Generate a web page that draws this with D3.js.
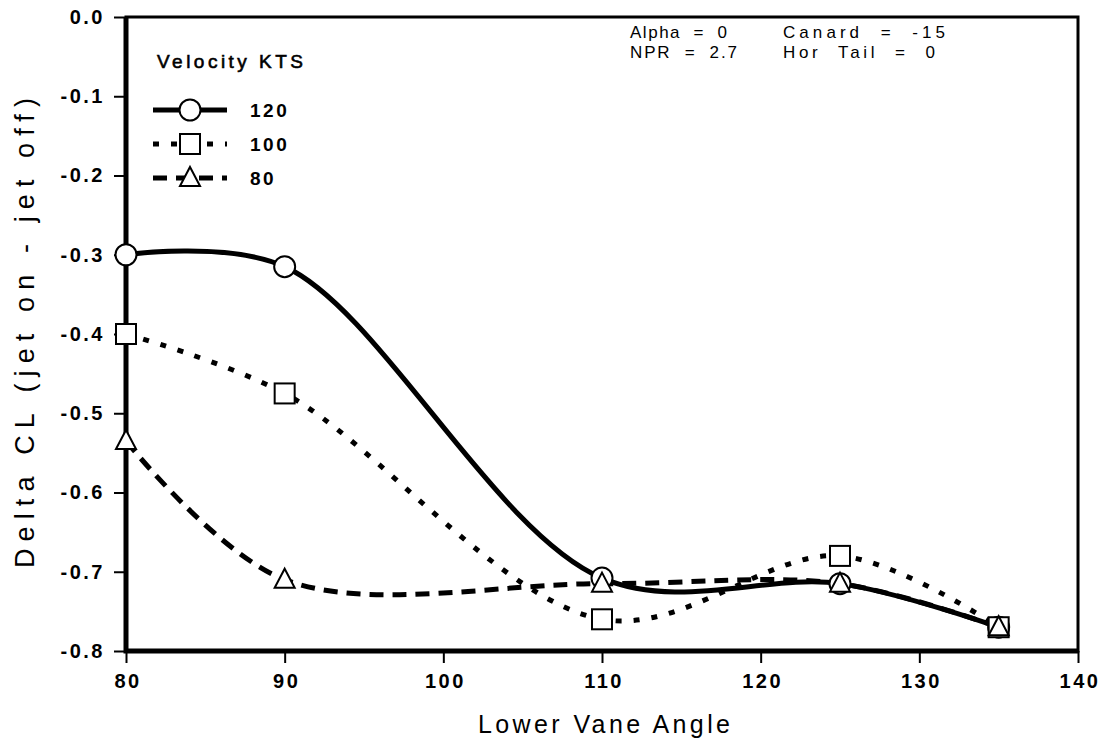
<!DOCTYPE html>
<html>
<head>
<meta charset="utf-8">
<script src="https://cdn.jsdelivr.net/npm/d3@7"></script>
<style>
  body { margin: 0; background: #fff; }
  text { font-family: "Liberation Sans", Arial, sans-serif; fill: #000; }
</style>
</head>
<body>
<div id="chart"></div>
<script>
// data
const vaneAngles = [80, 90, 110, 125, 135];
const v120 = [-0.300, -0.315, -0.708, -0.715, -0.770];
const v100 = [-0.400, -0.475, -0.760, -0.680, -0.770];
const v80 = [-0.535, -0.710, -0.715, -0.715, -0.770];
const xTicks = [80, 90, 100, 110, 120, 130, 140];
const yTicks = [0, -0.1, -0.2, -0.3, -0.4, -0.5, -0.6, -0.7, -0.8];

const series = [
  { label: "120", values: v120, marker: "circle", dash: null },
  { label: "100", values: v100, marker: "square", dash: "6,12" },
  { label: "80", values: v80, marker: "triangle", dash: "14,9" }
];

const width = 1101, height = 741;
const margin = { top: 17, right: 23, bottom: 90, left: 126 };

const svg = d3.select("#chart").append("svg")
  .attr("width", width)
  .attr("height", height);

const x = d3.scaleLinear().domain([80, 140]).range([margin.left, width - margin.right]);
const y = d3.scaleLinear().domain([-0.8, 0]).range([height - margin.bottom, margin.top]);

const fmt = d => d3.format(".1f")(d).replace("\u2212", "-");

// axes
const xAxis = svg.append("g")
  .attr("transform", `translate(0,${height - margin.bottom})`)
  .call(d3.axisBottom(x).tickValues(xTicks).tickSize(12).tickPadding(11));
const yAxis = svg.append("g")
  .attr("transform", `translate(${margin.left},0)`)
  .call(d3.axisLeft(y).tickValues(yTicks).tickSize(12).tickPadding(9).tickFormat(fmt));

[xAxis, yAxis].forEach(a => {
  a.select(".domain").remove();
  a.selectAll(".tick line").attr("stroke", "#000").attr("stroke-width", 2);
  a.selectAll(".tick text")
    .style("font-size", "20px")
    .style("font-weight", "bold")
    .style("letter-spacing", "2.5px");
});
xAxis.selectAll(".tick text").attr("dx", "1.5px");

// frame
svg.append("rect")
  .attr("x", x(80)).attr("y", y(0))
  .attr("width", x(140) - x(80)).attr("height", y(-0.8) - y(0))
  .attr("fill", "none").attr("stroke", "#000").attr("stroke-width", 3);
svg.append("path")
  .attr("d", `M${x(80)},${y(0)}V${y(-0.8)}H${x(140)}`)
  .attr("fill", "none").attr("stroke", "#000").attr("stroke-width", 5);

// axis titles
svg.append("text")
  .attr("x", 478).attr("y", 733)
  .attr("textLength", 252).attr("lengthAdjust", "spacing")
  .style("font-size", "25px")
  .text("Lower Vane Angle");
svg.append("text")
  .attr("transform", "translate(34,568) rotate(-90)")
  .attr("textLength", 470).attr("lengthAdjust", "spacing")
  .style("font-size", "27px")
  .text("Delta CL (jet on - jet off)");

// lines
const line = d3.line()
  .x((d, i) => x(vaneAngles[i]))
  .y(d => y(d))
  .curve(d3.curveCatmullRom.alpha(0.5));

function drawMarker(g, type) {
  if (type === "circle") {
    g.append("circle").attr("r", 10.5);
  } else if (type === "square") {
    g.append("rect").attr("x", -10).attr("y", -10).attr("width", 20).attr("height", 20);
  } else {
    g.append("path").attr("d", "M0,-11L10,8L-10,8Z");
  }
  g.selectAll("*").attr("fill", "#fff").attr("stroke", "#000").attr("stroke-width", 2);
}

series.forEach(s => {
  svg.append("path")
    .datum(s.values)
    .attr("d", line)
    .attr("fill", "none")
    .attr("stroke", "#000")
    .attr("stroke-width", 5)
    .attr("stroke-dasharray", s.dash);
});
series.forEach(s => {
  s.values.forEach((v, i) => {
    const g = svg.append("g").attr("transform", `translate(${x(vaneAngles[i])},${y(v)})`);
    drawMarker(g, s.marker);
  });
});

// legend
svg.append("text")
  .attr("x", 157).attr("y", 68)
  .attr("textLength", 146).attr("lengthAdjust", "spacing")
  .style("font-size", "19px")
  .attr("stroke", "#000").attr("stroke-width", 0.6)
  .text("Velocity KTS");
series.forEach((s, i) => {
  const ly = 110 + i * 34;
  svg.append("line")
    .attr("x1", 153).attr("x2", 227).attr("y1", ly).attr("y2", ly)
    .attr("stroke", "#000").attr("stroke-width", 5)
    .attr("stroke-dasharray", s.dash);
  const g = svg.append("g").attr("transform", `translate(190,${ly})`);
  drawMarker(g, s.marker);
  svg.append("text")
    .attr("x", 250).attr("y", ly + 7)
    .style("font-size", "19px").style("font-weight", "bold").style("letter-spacing", "2.5px")
    .text(s.label);
});

// run conditions
const notes = [
  ["Alpha  =  0", 630, 38, 97], ["NPR  =  2.7", 630, 58, 107],
  ["Canard  =  -15", 783, 38, 162], ["Hor  Tail  =  0", 783, 58, 152]
];
notes.forEach(n => {
  svg.append("text")
    .attr("x", n[1]).attr("y", n[2])
    .attr("xml:space", "preserve")
    .attr("textLength", n[3]).attr("lengthAdjust", "spacing")
    .style("font-size", "17px")
    .text(n[0]);
});
</script>
</body>
</html>
